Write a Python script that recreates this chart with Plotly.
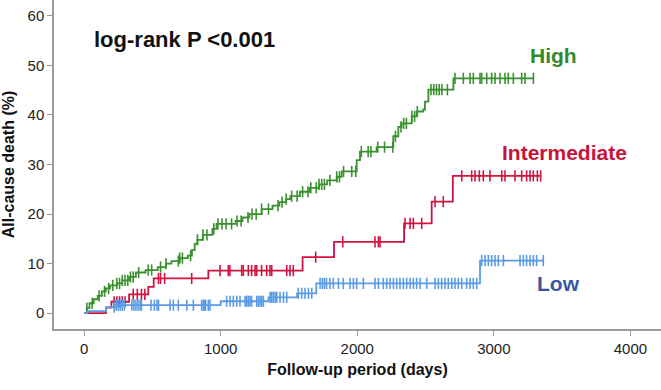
import numpy as np
import plotly.graph_objects as go

# ---- data (days, cumulative all-cause death %) ----
high_event_days = [0, 20, 40, 70, 100, 130, 160, 190, 240, 280, 330, 380, 450, 540, 600, 640, 700,
                   760, 790, 810, 830, 870, 940, 970, 1110, 1160, 1210, 1300, 1380, 1430, 1480, 1510,
                   1580, 1650, 1720, 1780, 1850, 1886, 1996, 2020, 2142, 2264, 2301, 2325, 2399,
                   2435, 2484, 2496, 2521, 2704]
high_event_pct = [0, 1.0, 2.0, 2.8, 3.5, 4.4, 5.0, 5.6, 6.0, 6.6, 7.3, 8.2, 8.7, 9.3, 10.0, 10.5, 11.1,
                  11.6, 12.7, 14.0, 14.8, 15.8, 17.0, 18.0, 18.6, 19.3, 20.0, 21.0, 21.7, 22.4, 23.0, 23.6,
                  24.5, 25.3, 26.0, 26.8, 27.5, 28.6, 30.9, 32.6, 33.5, 35.7, 37.6, 38.3, 39.7,
                  40.7, 41.1, 42.7, 45.1, 47.4]
high_censor_days = [20, 60, 110, 150, 180, 210, 240, 260, 280, 300, 320, 340, 360, 400, 470, 495, 560,
                    600, 690, 700, 720, 780, 830, 870, 900, 950, 980, 1010, 1040, 1080, 1120, 1150,
                    1200, 1230, 1260, 1300, 1350, 1420, 1450, 1480, 1520, 1560, 1600, 1640, 1660, 1700,
                    1720, 1740, 1760, 1800, 1850, 1870, 1900, 1960, 1990, 2030, 2080, 2100, 2150, 2200,
                    2260, 2280, 2320, 2340, 2360, 2400, 2420, 2440, 2540, 2560, 2580, 2600, 2620, 2660,
                    2716, 2777, 2826, 2850, 2899, 2911, 2948, 2984, 3009, 3045, 3082, 3106, 3143, 3204,
                    3228, 3290]

inter_event_days = [0, 160, 200, 330, 470, 510, 910, 1600, 1830, 2343, 2545, 2700]
inter_event_pct = [0, 1.1, 2.3, 3.8, 5.3, 7.0, 8.6, 11.3, 14.4, 18.1, 22.5, 27.7]
inter_censor_days = [220, 240, 260, 280, 300, 360, 390, 420, 445, 545, 560, 590, 788, 996, 1056, 1068,
                     1154, 1166, 1203, 1227, 1252, 1264, 1300, 1337, 1361, 1374, 1484, 1508, 1532,
                     1696, 1894, 2130, 2155, 2167, 2350, 2387, 2411, 2472, 2570, 2630, 2765, 2838,
                     2862, 2894, 2923, 2972, 3058, 3082, 3155, 3204, 3240, 3265, 3289, 3319, 3343]

low_event_days = [0, 25, 160, 230, 1000, 1350, 1560, 1700, 2899]
low_event_pct = [0, 0.4, 1.2, 1.6, 2.4, 3.2, 4.0, 6.0, 10.6]
low_censor_days = [220, 235, 250, 265, 280, 295, 350, 365, 380, 395, 410, 420, 490, 515, 535, 545, 630,
                   654, 690, 752, 800, 873, 890, 910, 861, 880, 922, 1044, 1069, 1093, 1118, 1142, 1179,
                   1191, 1203, 1215, 1227, 1264, 1276, 1289, 1301, 1313, 1362, 1374, 1386, 1399, 1411,
                   1435, 1460, 1484, 1569, 1594, 1618, 1643, 1667, 1728, 1745, 1760, 1775, 1800, 1825,
                   1862, 1898, 1947, 1972, 1996, 2045, 2130, 2155, 2191, 2216, 2240, 2265, 2289, 2313,
                   2338, 2362, 2387, 2411, 2435, 2460, 2509, 2570, 2594, 2618, 2643, 2667, 2692, 2716,
                   2740, 2765, 2801, 2826, 2850, 2875, 2911, 2936, 2960, 2984, 3009, 3033, 3070, 3192,
                   3216, 3240, 3265, 3289, 3313, 3362]

x_ticks = [0, 1000, 2000, 3000, 4000]
y_ticks = [0, 10, 20, 30, 40, 50, 60]

groups = [
    ("High", high_event_days, high_event_pct, high_censor_days, "#39902f", "#2f8a2f"),
    ("Intermediate", inter_event_days, inter_event_pct, inter_censor_days, "#d01442", "#c8143c"),
    ("Low", low_event_days, low_event_pct, low_censor_days, "#5b9be3", "#3c56a3"),
]

fig = go.Figure()
for name, ed, ep, cd, col, _ in groups:
    ed = np.array(ed, float)
    ep = np.array(ep, float)
    cd = np.array(sorted(cd), float)
    end = max(cd.max(), ed.max())
    xs = np.append(ed, end)
    ys = np.append(ep, ep[-1])
    fig.add_trace(go.Scatter(x=xs, y=ys, mode="lines", line=dict(color=col, width=1.8, shape="hv"),
                             showlegend=False, hoverinfo="skip"))
    idx = np.searchsorted(ed, cd, side="right") - 1
    fig.add_trace(go.Scatter(x=cd, y=ep[idx], mode="markers",
                             marker=dict(symbol="line-ns", size=8, line=dict(color=col, width=1.6)),
                             showlegend=False, hoverinfo="skip"))

# group labels
label_pos = {"High": (3440, 52.1), "Intermediate": (3520, 32.5), "Low": (3470, 6.0)}
for name, ed, ep, cd, col, lcol in groups:
    lx, ly = label_pos[name]
    fig.add_annotation(x=lx, y=ly, text=name, showarrow=False, xanchor="center", yanchor="middle",
                       font=dict(family="Liberation Sans", size=21, color=lcol, weight="bold"))

fig.add_annotation(x=0.062, y=0.88, xref="paper", yref="paper", text="log-rank P <0.001",
                   showarrow=False, xanchor="left", yanchor="middle",
                   font=dict(family="Liberation Sans", size=22, color="#111111", weight="bold"))

axis_common = dict(showgrid=False, zeroline=False, showline=True, linecolor="#9a9a9a", linewidth=1.5,
                   ticks="outside", ticklen=5, tickcolor="#9a9a9a", tickwidth=1.2,
                   tickfont=dict(family="Liberation Sans", size=15, color="#222222"))

fig.update_layout(
    width=661, height=390,
    margin=dict(l=54, r=0, t=0, b=61),
    paper_bgcolor="white", plot_bgcolor="white",
    xaxis=dict(range=[-220, 4224], tickvals=x_ticks, **axis_common,
               title=dict(text="Follow-up period (days)", standoff=8,
                          font=dict(family="Liberation Sans", size=16, color="#111111", weight="bold"))),
    yaxis=dict(range=[-3.2, 63.2], tickvals=y_ticks, **axis_common,
               title=dict(text="All-cause death (%)", standoff=10,
                          font=dict(family="Liberation Sans", size=16, color="#111111", weight="bold"))),
)

fig.write_html("out.html", config={"displayModeBar": False},
               post_script="document.body.style.margin='0px';document.body.style.overflow='hidden';")
